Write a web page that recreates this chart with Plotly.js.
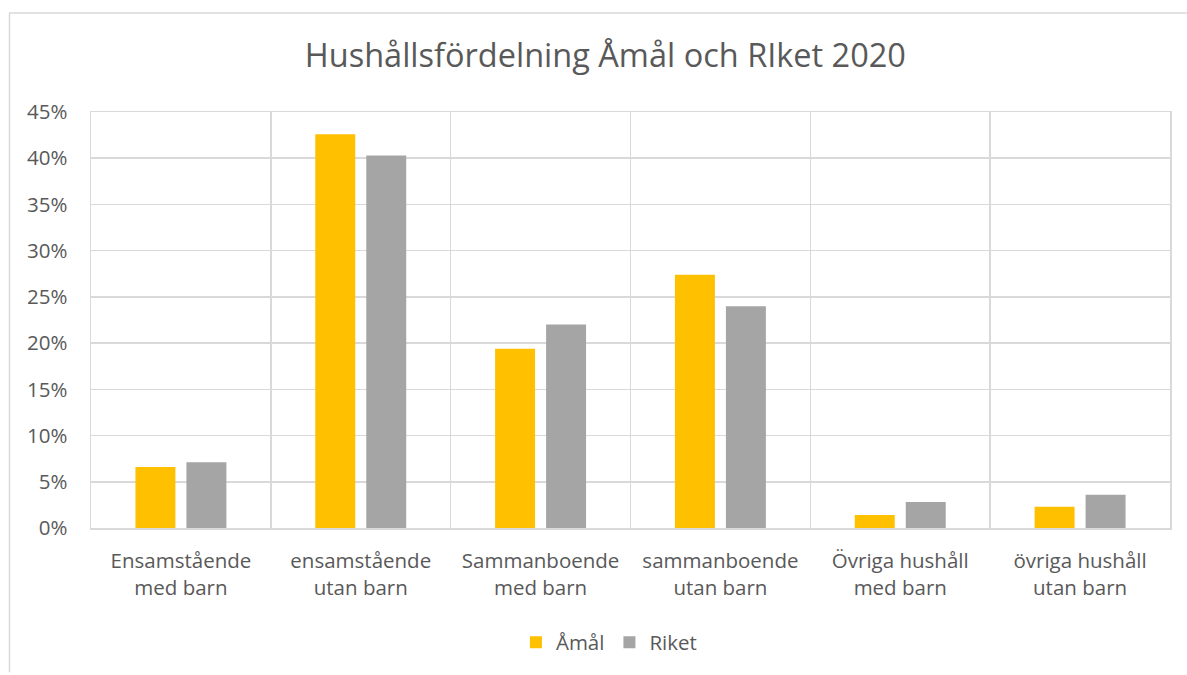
<!DOCTYPE html>
<html>
<head>
<meta charset="utf-8">
<script src="https://cdn.plot.ly/plotly-3.0.1.min.js"></script>
<style>html,body{margin:0;padding:0;background:#fff;}#chart{width:1187px;height:675px;}</style>
</head>
<body>
<div id="chart"></div>
<script>
const categories = [
  "Ensamstående<br>med barn",
  "ensamstående<br>utan barn",
  "Sammanboende<br>med barn",
  "sammanboende<br>utan barn",
  "Övriga hushåll<br>med barn",
  "övriga hushåll<br>utan barn"
];
const amal = [6.6, 42.6, 19.4, 27.4, 1.4, 2.3];
const riket = [7.1, 40.3, 22.0, 24.0, 2.8, 3.6];
const yTicks = [0, 5, 10, 15, 20, 25, 30, 35, 40, 45];

const font = "Open Sans, Noto Sans, sans-serif";
const textColor = "#595959";
const gridColor = "#D9D9D9";

const traces = [
  {type: "bar", name: "Åmål", x: categories, y: amal, marker: {color: "#FFC000"}, hoverinfo: "y+name"},
  {type: "bar", name: "Riket", x: categories, y: riket, marker: {color: "#A5A5A5"}, hoverinfo: "y+name"}
];

const layout = {
  width: 1187, height: 675,
  paper_bgcolor: "#fff", plot_bgcolor: "#fff",
  margin: {l: 91, r: 17, t: 112, b: 145},
  font: {family: font, color: textColor},
  title: {text: "Hushållsfördelning Åmål och RIket 2020", font: {family: font, size: 32.5, color: textColor},
          x: 0.51, xanchor: "center", xref: "container", y: 0.918, yanchor: "middle", yref: "container"},
  barmode: "group",
  bargap: 0.433,
  bargroupgap: 0.216,
  xaxis: {
    type: "category",
    automargin: false,
    tickson: "boundaries",
    showgrid: true, gridcolor: gridColor, gridwidth: 1.5,
    showline: true, linecolor: gridColor, linewidth: 1.5, mirror: true,
    ticks: "", ticklabelstandoff: 14,
    tickfont: {family: font, size: 20.5, color: textColor},
    fixedrange: true
  },
  yaxis: {
    automargin: false,
    range: [0, 45],
    tickvals: yTicks,
    ticktext: yTicks.map(v => v + "%"),
    showgrid: true, gridcolor: gridColor, gridwidth: 1.5,
    showline: true, linecolor: gridColor, linewidth: 1.5, mirror: true,
    zeroline: false,
    ticks: "", ticklabelstandoff: 18,
    tickfont: {family: font, size: 20.5, color: textColor},
    fixedrange: true
  },
  showlegend: true,
  legend: {
    orientation: "h", x: 0.48, xanchor: "center", y: -0.275, yanchor: "middle",
    font: {family: font, size: 20.5, color: textColor},
    itemwidth: 30, traceorder: "normal"
  },
  shapes: [
    {type: "line", xref: "paper", yref: "paper",
     x0: (9 - 91) / 1079, x1: (1187 - 91) / 1079,
     y0: 1 + (112 - 12.5) / 418, y1: 1 + (112 - 12.5) / 418,
     line: {color: gridColor, width: 1.5}, layer: "below"},
    {type: "line", xref: "paper", yref: "paper",
     x0: (9.5 - 91) / 1079, x1: (9.5 - 91) / 1079,
     y0: 1 + (112 - 12.5) / 418, y1: -(675 - 530) / 418,
     line: {color: gridColor, width: 1.5}, layer: "below"}
  ]
};

Plotly.newPlot("chart", traces, layout, {displayModeBar: false, staticPlot: true});
</script>
</body>
</html>
